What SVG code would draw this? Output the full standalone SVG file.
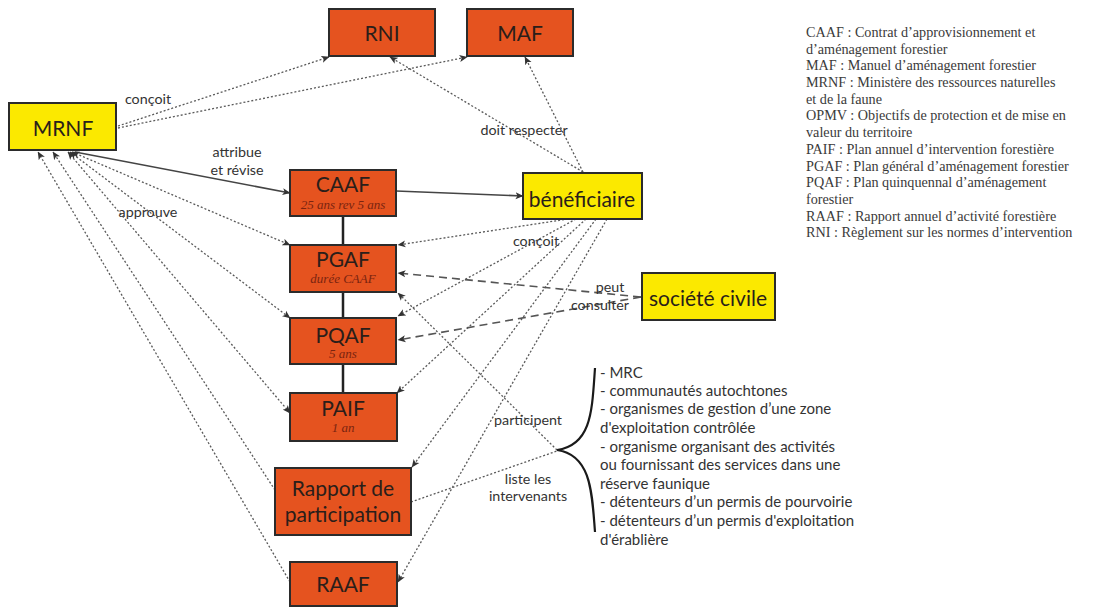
<svg xmlns="http://www.w3.org/2000/svg" width="1101" height="608" viewBox="0 0 1101 608">
<style>
  .box { fill: #e5531f; stroke: #2b2b2b; stroke-width: 2; }
  .ybox { fill: #fbe900; stroke: #2b2b2b; stroke-width: 2; }
  .nt { font-family: Lato, "Open Sans", sans-serif; font-size: 21px; fill: #2a1e1a; text-anchor: middle; }
  .sub { font-family: "Liberation Serif", serif; font-style: italic; font-size: 13px; fill: #7a2410; text-anchor: middle; }
  .lbl { font-family: Lato, "Open Sans", sans-serif; font-size: 14.3px; fill: #333; text-anchor: middle; }
  .lst { font-family: Lato, "Open Sans", sans-serif; font-size: 15px; fill: #333; }
  .leg { font-family: "Liberation Serif", serif; font-size: 14.2px; fill: #3a3a3a; }
  .dot { fill: none; stroke: #5a5a5a; stroke-width: 1.3; stroke-dasharray: 2 2; }
  .dash { fill: none; stroke: #555; stroke-width: 1.6; stroke-dasharray: 8 5; }
  .sol { fill: none; stroke: #444; stroke-width: 1.6; }
  .link { fill: none; stroke: #222; stroke-width: 2.5; }
</style>
<defs>
  <marker id="ah" viewBox="0 0 8 8" refX="7.5" refY="4" markerWidth="8" markerHeight="8" markerUnits="userSpaceOnUse" orient="auto-start-reverse">
    <path d="M0,0.5 L8,4 L0,7.5 L2,4 z" fill="#333"/>
  </marker>
</defs>
<rect width="1101" height="608" fill="#ffffff"/>

<g id="connectors">
  <path class="dot" d="M118,126 L329,57" marker-end="url(#ah)"/>
  <path class="dot" d="M118,128 L467,57" marker-end="url(#ah)"/>
  <path class="sol" d="M75,152 L290,193" marker-end="url(#ah)"/>
  <path class="dot" d="M72,152 L290,245" marker-start="url(#ah)" marker-end="url(#ah)"/>
  <path class="dot" d="M70,152 L290,318" marker-start="url(#ah)" marker-end="url(#ah)"/>
  <path class="dot" d="M68,152 L290,413" marker-start="url(#ah)" marker-end="url(#ah)"/>
  <path class="dot" d="M275,490 L53,152" marker-end="url(#ah)"/>
  <path class="dot" d="M290,582 L38,152" marker-end="url(#ah)"/>
  <path class="link" d="M343,216 L343,245 M343,292 L343,318 M343,364 L343,393"/>
  <path class="sol" d="M396,191 L523,196" marker-end="url(#ah)"/>
  <path class="dot" d="M583,172 L390,57" marker-end="url(#ah)"/>
  <path class="dot" d="M583,172 L525,57" marker-end="url(#ah)"/>
  <path class="dot" d="M568,219 L398,245" marker-end="url(#ah)"/>
  <path class="dot" d="M576,219 L398,316" marker-end="url(#ah)"/>
  <path class="dot" d="M586,219 L397,393" marker-end="url(#ah)"/>
  <path class="dot" d="M596,219 L412,467" marker-end="url(#ah)"/>
  <path class="dot" d="M607,219 L398,582" marker-end="url(#ah)"/>
  <path class="dash" d="M641,297 L398,273" marker-end="url(#ah)"/>
  <path class="dash" d="M641,297 L398,340" marker-end="url(#ah)"/>
  <path class="dot" d="M557,450 L398,293" marker-end="url(#ah)"/>
  <path class="dot" d="M411,502 L557,451"/>
  <path fill="none" stroke="#1a1a1a" stroke-width="2.2" d="M595,368 C592,410 592,445 557,450 C592,455 592,495 595,532"/>
  <text class="lbl" x="148" y="104">conçoit</text>
  <text class="lbl" x="237" y="157">attribue</text>
  <text class="lbl" x="237" y="175">et révise</text>
  <text class="lbl" x="148" y="217">approuve</text>
  <text class="lbl" x="524" y="135">doit respecter</text>
  <text class="lbl" x="536" y="246">conçoit</text>
  <text class="lbl" x="610" y="292">peut</text>
  <text class="lbl" x="600" y="310">consulter</text>
  <text class="lbl" x="528" y="425">participent</text>
  <text class="lbl" x="528" y="484">liste les</text>
  <text class="lbl" x="528" y="501">intervenants</text>
</g>

<g id="RNI"><rect class="box" x="329" y="9" width="106" height="47"/><text class="nt" x="382" y="41">RNI</text></g>
<g id="MAF"><rect class="box" x="467" y="9" width="106" height="47"/><text class="nt" x="520" y="41">MAF</text></g>
<g id="MRNF"><rect class="ybox" x="9" y="103" width="107" height="47"/><text class="nt" x="63" y="136">MRNF</text></g>
<g id="CAAF"><rect class="box" x="290" y="170" width="106" height="46"/><text class="nt" x="343" y="192">CAAF</text><text class="sub" x="343" y="209">25 ans rev 5 ans</text></g>
<g id="PGAF"><rect class="box" x="290" y="245" width="106" height="47"/><text class="nt" x="343" y="267">PGAF</text><text class="sub" x="343" y="283">durée CAAF</text></g>
<g id="PQAF"><rect class="box" x="290" y="318" width="106" height="46"/><text class="nt" x="343" y="343">PQAF</text><text class="sub" x="343" y="358">5 ans</text></g>
<g id="PAIF"><rect class="box" x="290" y="393" width="107" height="48"/><text class="nt" x="343" y="416">PAIF</text><text class="sub" x="343" y="432">1 an</text></g>
<g id="Rapport"><rect class="box" x="275" y="468" width="136" height="67"/><text class="nt" x="343" y="496">Rapport de</text><text class="nt" x="343" y="522">participation</text></g>
<g id="RAAF"><rect class="box" x="290" y="562" width="107" height="44"/><text class="nt" x="343" y="592">RAAF</text></g>
<g id="beneficiaire"><rect class="ybox" x="523" y="173" width="119" height="46"/><text class="nt" x="582" y="207">bénéficiaire</text></g>
<g id="societe"><rect class="ybox" x="642" y="273" width="133" height="47"/><text class="nt" x="708" y="306">société civile</text></g>

<g id="liste">
  <text class="lst" x="600" y="378">- MRC</text>
  <text class="lst" x="600" y="396">- communautés autochtones</text>
  <text class="lst" x="600" y="414">- organismes de gestion d’une zone</text>
  <text class="lst" x="600" y="433">d'exploitation contrôlée</text>
  <text class="lst" x="600" y="452">- organisme organisant des activités</text>
  <text class="lst" x="600" y="470">ou fournissant des services dans une</text>
  <text class="lst" x="600" y="489">réserve faunique</text>
  <text class="lst" x="600" y="507">- détenteurs d’un permis de pourvoirie</text>
  <text class="lst" x="600" y="526">- détenteurs d’un permis d'exploitation</text>
  <text class="lst" x="600" y="545">d'érablière</text>
</g>

<g id="legende">
  <text class="leg" x="806" y="37">CAAF : Contrat d’approvisionnement et</text>
  <text class="leg" x="806" y="54">d’aménagement forestier</text>
  <text class="leg" x="806" y="70">MAF : Manuel d’aménagement forestier</text>
  <text class="leg" x="806" y="87">MRNF : Ministère des ressources naturelles</text>
  <text class="leg" x="806" y="104">et de la faune</text>
  <text class="leg" x="806" y="120">OPMV : Objectifs de protection et de mise en</text>
  <text class="leg" x="806" y="137">valeur du territoire</text>
  <text class="leg" x="806" y="154">PAIF : Plan annuel d’intervention forestière</text>
  <text class="leg" x="806" y="171">PGAF : Plan général d’aménagement forestier</text>
  <text class="leg" x="806" y="187">PQAF : Plan quinquennal d’aménagement</text>
  <text class="leg" x="806" y="204">forestier</text>
  <text class="leg" x="806" y="221">RAAF : Rapport annuel d’activité forestière</text>
  <text class="leg" x="806" y="237">RNI : Règlement sur les normes d’intervention</text>
</g>
</svg>
